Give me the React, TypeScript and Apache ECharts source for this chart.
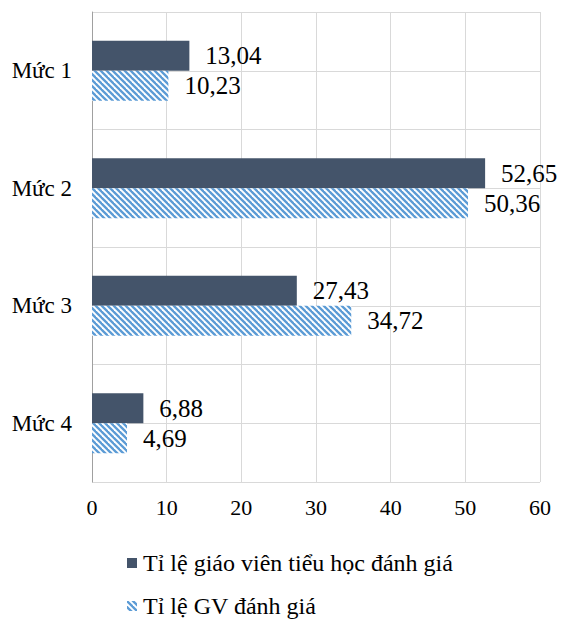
import React, { useEffect, useRef } from "react";
import * as echarts from "echarts";

const categories = ["Mức 1", "Mức 2", "Mức 3", "Mức 4"];
const seriesNames = ["Tỉ lệ giáo viên tiểu học đánh giá", "Tỉ lệ GV đánh giá"];
const primaryTeachers = [13.04, 52.65, 27.43, 6.88];
const gvValues = [10.23, 50.36, 34.72, 4.69];
const xTicks = [0, 10, 20, 30, 40, 50, 60];

const FONT = "Liberation Serif";

function makeHatch() {
  const size = 6;
  const c = document.createElement("canvas");
  c.width = size;
  c.height = size;
  const ctx = c.getContext("2d")!;
  ctx.fillStyle = "#ffffff";
  ctx.fillRect(0, 0, size, size);
  ctx.strokeStyle = "#5B9BD5";
  ctx.lineWidth = 2.3;
  for (let k = -1; k <= 1; k++) {
    ctx.beginPath();
    ctx.moveTo(k * size - 1, -1);
    ctx.lineTo(k * size + size + 1, size + 1);
    ctx.stroke();
  }
  return { image: c, repeat: "repeat", imageWidth: size, imageHeight: size } as any;
}

const fmt = (p: any) => Number(p.value).toFixed(2).replace(".", ",");

const legendBase = {
  orient: "vertical",
  left: 127,
  padding: 0,
  itemWidth: 10,
  itemHeight: 10,
  itemGap: 0,
  icon: "rect",
  textStyle: { fontFamily: FONT, fontSize: 24, color: "#000", padding: [0, 0, 0, 1] },
};

export default function App() {
  const ref = useRef<HTMLDivElement>(null);
  useEffect(() => {
    document.body.style.margin = "0";
    const chart = echarts.init(ref.current!, null, { renderer: "svg" });
    const hatch = makeHatch();
    const labelCfg = {
      show: true,
      position: "right",
      distance: 16,
      formatter: fmt,
      fontFamily: FONT,
      fontSize: 25,
      color: "#000",
    };
    chart.setOption({
      animation: false,
      backgroundColor: "#ffffff",
      textStyle: { fontFamily: FONT },
      grid: { left: 92, right: 23, top: 12, bottom: 137, containLabel: false },
      legend: [
        { ...legendBase, top: 551, data: [seriesNames[0]] },
        { ...legendBase, top: 594, data: [seriesNames[1]] },
      ],
      xAxis: {
        type: "value",
        min: xTicks[0],
        max: xTicks[xTicks.length - 1],
        interval: 10,
        axisLine: { show: false },
        axisTick: { show: false },
        splitLine: { show: true, lineStyle: { color: "#D9D9D9", width: 1 } },
        axisLabel: { fontFamily: FONT, fontSize: 22, color: "#000", margin: 14 },
      },
      yAxis: [
        {
          type: "category",
          data: categories,
          inverse: true,
          axisLine: { show: true, lineStyle: { color: "#A0A0A0", width: 1 } },
          axisTick: { show: false },
          splitLine: { show: false },
          axisLabel: { fontFamily: FONT, fontSize: 23, color: "#000", margin: 20 },
        },
        {
          type: "value",
          min: 0,
          max: 8,
          interval: 1,
          position: "left",
          axisLine: { show: false },
          axisTick: { show: false },
          axisLabel: { show: false },
          splitLine: { show: true, lineStyle: { color: "#D9D9D9", width: 1 } },
        },
      ],
      series: [
        {
          name: seriesNames[0],
          type: "bar",
          yAxisIndex: 0,
          data: primaryTeachers,
          barWidth: 30,
          barGap: "0%",
          itemStyle: { color: "#44546A" },
          label: labelCfg,
        },
        {
          name: seriesNames[1],
          type: "bar",
          yAxisIndex: 0,
          data: gvValues,
          barWidth: 30,
          barGap: "0%",
          itemStyle: { color: hatch },
          label: labelCfg,
        },
      ],
    });
    return () => chart.dispose();
  }, []);
  return <div ref={ref} style={{ width: 563, height: 619 }} />;
}
